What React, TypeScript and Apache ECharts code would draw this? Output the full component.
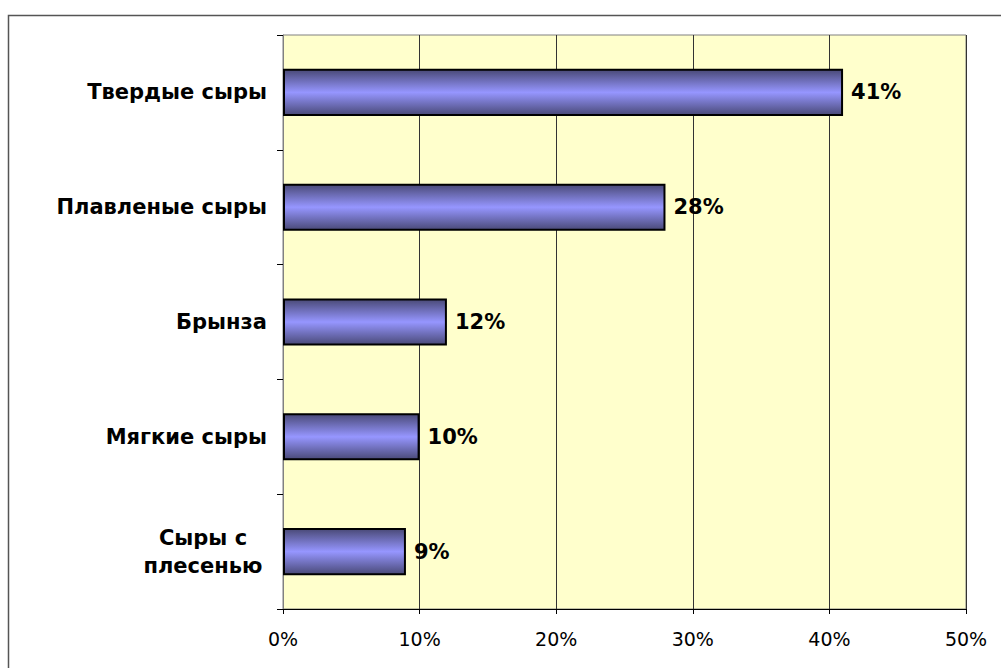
import React, { useEffect, useRef } from "react";
import * as echarts from "echarts";

const categories = ["Твердые сыры", "Плавленые сыры", "Брынза", "Мягкие сыры", "Сыры с плесенью"];
const values = [41, 28, 12, 10, 9];
const xTicks = [0, 10, 20, 30, 40, 50];

export default function App() {
  const ref = useRef<HTMLDivElement>(null);
  useEffect(() => {
    if (!ref.current) return;
    const chart = echarts.init(ref.current, null, { renderer: "svg" });
    chart.setOption({
      animation: false,
      backgroundColor: "#ffffff",
      graphic: [
        {
          type: "rect",
          shape: { x: 8.5, y: 15.5, width: 1010, height: 700 },
          style: { fill: "none", stroke: "#555555", lineWidth: 1.5 },
          silent: true,
        },
      ],
      grid: {
        left: 283,
        right: 35,
        top: 35,
        bottom: 59,
        show: true,
        backgroundColor: "#FFFFCC",
        borderColor: "#808080",
        borderWidth: 1,
      },
      xAxis: {
        type: "value",
        min: xTicks[0],
        max: xTicks[xTicks.length - 1],
        interval: 10,
        axisLine: { show: true, lineStyle: { color: "#000000", width: 1 } },
        axisTick: { show: true, length: 5, lineStyle: { color: "#000000" } },
        axisLabel: {
          formatter: "{value}%",
          fontFamily: "DejaVu Sans",
          fontSize: 19,
          color: "#000000",
          margin: 20,
        },
        splitLine: { show: true, lineStyle: { color: "#333333", width: 1 } },
      },
      yAxis: {
        type: "category",
        data: categories,
        inverse: true,
        axisLine: { show: true, lineStyle: { color: "#808080", width: 1 } },
        axisTick: { show: true, length: 6, lineStyle: { color: "#000000" } },
        axisLabel: {
          fontFamily: "DejaVu Sans",
          fontWeight: "bold",
          fontSize: 21,
          color: "#000000",
          margin: 16,
          lineHeight: 28,
          formatter: (v: string) => {
            if (v === "Сыры с плесенью") return "{c|Сыры с}\n{c|плесенью}";
            return v;
          },
          rich: {
            c: {
              width: 128,
              align: "center",
              fontFamily: "DejaVu Sans",
              fontWeight: "bold",
              fontSize: 21,
              lineHeight: 28,
              color: "#000000",
            },
          },
        },
      },
      series: [
        {
          type: "bar",
          data: values,
          barWidth: "41%",
          itemStyle: {
            color: new echarts.graphic.LinearGradient(0, 0, 0, 1, [
              { offset: 0, color: "#4a4a78" },
              { offset: 0.5, color: "#9696ff" },
              { offset: 1, color: "#4a4a78" },
            ]),
            borderColor: "#000000",
            borderWidth: 2,
          },
          label: {
            show: true,
            position: "right",
            distance: 8,
            formatter: "{c}%",
            fontFamily: "DejaVu Sans",
            fontWeight: "bold",
            fontSize: 21,
            color: "#000000",
          },
        },
      ],
    });
    return () => chart.dispose();
  }, []);
  return (
    <div
      ref={ref}
      style={{ position: "absolute", left: 0, top: 0, width: 1001, height: 668 }}
    />
  );
}
